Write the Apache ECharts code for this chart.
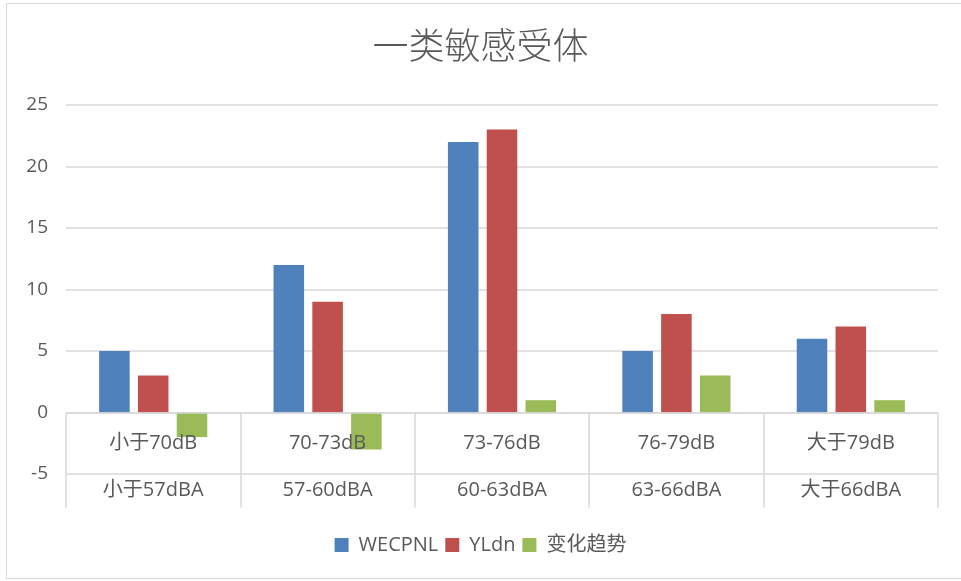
<!DOCTYPE html>
<html>
<head>
<meta charset="utf-8">
<script src="https://cdn.jsdelivr.net/npm/echarts@6/dist/echarts.min.js"></script>
<style>
  html, body { margin: 0; padding: 0; background: #fff; }
  #frame { position: absolute; left: 6px; top: 3px; width: 970px; height: 576px; border: 1px solid #d9d9d9; box-sizing: border-box; }
  #chart { position: absolute; left: 0; top: 0; width: 961px; height: 581px; }
</style>
</head>
<body>
<div id="frame"></div>
<div id="chart"></div>
<script>
// Noise bands: upper row in dB (WECPNL), lower row in dBA (Ldn)
const bandsDB = ['小于70dB', '70-73dB', '73-76dB', '76-79dB', '大于79dB'];
const bandsDBA = ['小于57dBA', '57-60dBA', '60-63dBA', '63-66dBA', '大于66dBA'];
const wecpnl = [5, 12, 22, 5, 6];
const yldn = [3, 9, 23, 8, 7];
const trend = [-2, -3, 1, 3, 1];
const yTicks = { min: -5, max: 25, step: 5 };

const categories = bandsDB.map((d, i) => d + '\n' + bandsDBA[i]);
const textColor = '#595959';
const gridColor = '#d9d9d9';
const font = '"Open Sans", "Noto Sans CJK SC", sans-serif';

const chart = echarts.init(document.getElementById('chart'));
chart.setOption({
  animation: false,
  title: {
    text: '一类敏感受体',
    left: 'center',
    top: 22,
    textStyle: { fontFamily: '"Noto Sans CJK SC", sans-serif', fontWeight: 300, fontSize: 36, color: textColor }
  },
  legend: {
    top: 530,
    left: 'center',
    itemWidth: 14,
    itemHeight: 14,
    itemGap: 7,
    icon: 'rect',
    textStyle: { fontFamily: font, fontSize: 20, color: textColor, padding: [0, 0, 0, 5] },
    data: ['WECPNL', 'YLdn', '变化趋势']
  },
  grid: { left: 66, right: 23, top: 105, bottom: 107, containLabel: false, outerBoundsMode: 'none' },
  xAxis: {
    type: 'category',
    data: categories,
    z: 5,
    axisLine: { onZero: true, lineStyle: { color: gridColor, width: 1.5 } },
    axisTick: { show: true, length: 95, interval: 0, alignWithLabel: false, lineStyle: { color: gridColor, width: 1.5 } },
    axisLabel: {
      interval: 0,
      margin: -54,
      fontFamily: font,
      fontSize: 20,
      color: textColor,
      lineHeight: 47
    }
  },
  yAxis: {
    type: 'value',
    min: yTicks.min,
    max: yTicks.max,
    interval: yTicks.step,
    axisLine: { show: false },
    axisTick: { show: false },
    splitLine: { lineStyle: { color: gridColor, width: 1.5 } },
    axisLabel: { fontFamily: font, fontSize: 19, color: textColor, margin: 18 }
  },
  series: [
    { name: 'WECPNL', type: 'bar', data: wecpnl, itemStyle: { color: '#4F81BD' }, barGap: '27%', barCategoryGap: '38%' },
    { name: 'YLdn', type: 'bar', data: yldn, itemStyle: { color: '#C0504D' } },
    { name: '变化趋势', type: 'bar', data: trend, itemStyle: { color: '#9BBB59' } }
  ]
});
</script>
</body>
</html>
